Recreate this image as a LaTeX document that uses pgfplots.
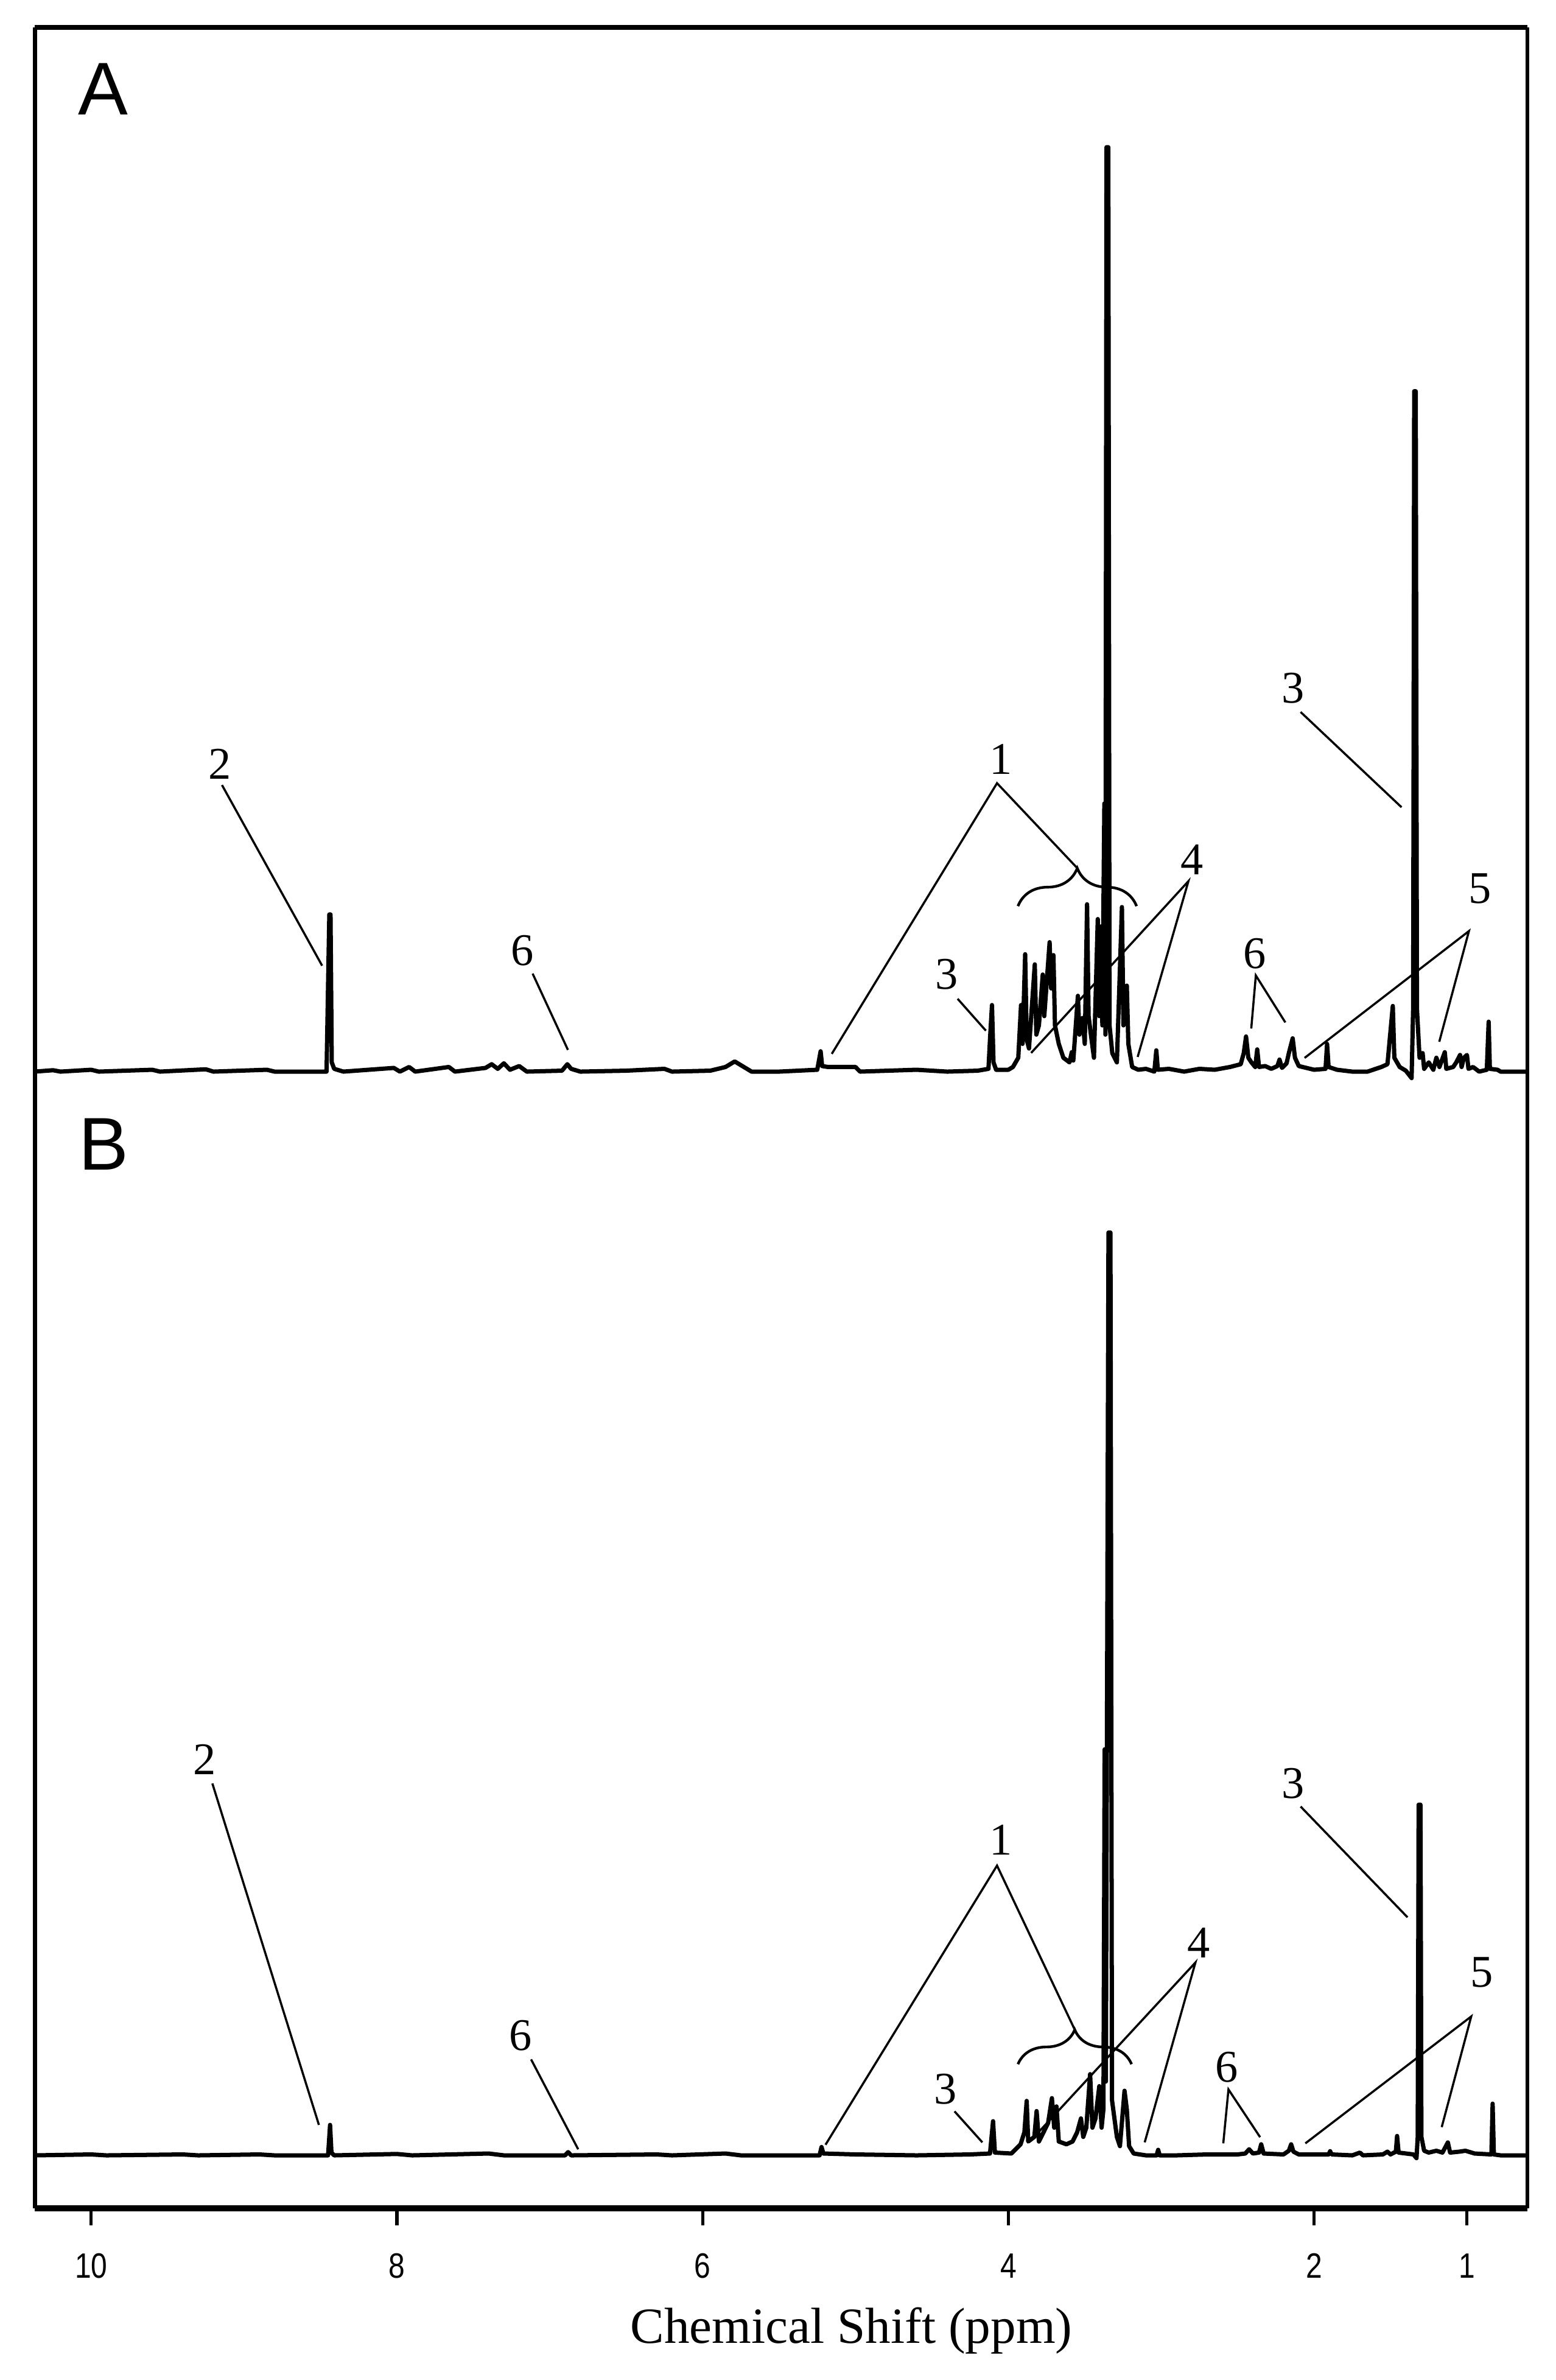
\documentclass[border=0pt]{standalone}
\usepackage{fontspec}
\setmainfont{Liberation Serif}
\newfontfamily\arial{Liberation Sans}
\usepackage{graphicx}
\usepackage{pgfplots}
\pgfplotsset{compat=1.18}
\usetikzlibrary{decorations.pathreplacing}

% shared look of the two stacked spectra
\pgfplotsset{
  nmr/.style={
    scale only axis, width=98.34mm,
    x dir=reverse, xmin=0.605, xmax=10.368,
    clip=false,
  },
  spec/.style={black, line width=0.8pt, sharp plot, no markers, line join=round},
}
\tikzset{
  lead/.style={black, line width=0.4pt},
  lbl/.style={font=\fontsize{8.5}{10}\selectfont, inner sep=0pt},
  panel/.style={font=\arial\fontsize{14}{16}\selectfont, inner sep=0pt},
  brc/.style={black, line width=0.5pt, decorate},
}

\begin{document}
\begin{tikzpicture}
\useasboundingbox (0,0) rectangle (102.5mm,-156.8mm);

% ---------------- panel A ----------------
\begin{axis}[nmr, height=71.9mm, at={(2.3mm,-1.8mm)}, anchor=north west,
  ymin=-5.09, ymax=112.97, hide axis]
\addplot[spec] coordinates {
(10.368,0)(10.25,0.15)(10.2,0)(10.0,0.2)(9.95,0)(9.6,0.2)(9.55,0)(9.25,0.25)(9.2,0)
(8.85,0.2)(8.8,0)(8.46,0)(8.442,17.0)(8.434,17.0)(8.426,1.0)(8.41,0.3)(8.35,0)
(8.02,0.4)(7.98,0)(7.92,0.5)(7.88,0)(7.66,0.5)(7.62,0)(7.42,0.4)(7.38,0.8)(7.34,0.3)
(7.30,0.9)(7.26,0.2)(7.20,0.6)(7.15,0)(6.92,0.1)(6.885,0.8)(6.86,0.3)(6.80,0)
(6.50,0.1)(6.25,0.3)(6.20,0)(5.95,0.1)(5.85,0.5)(5.79,1.1)(5.74,0.6)(5.68,0)(5.50,0)
(5.25,0.2)(5.228,2.2)(5.218,0.6)(5.18,0.5)(5.00,0.5)(4.97,0)(4.60,0.2)(4.40,0)
(4.20,0.1)(4.13,0.3)(4.12,3.5)(4.107,7.2)(4.097,1.0)(4.08,0.2)(4.00,0.2)(3.97,0.5)
(3.935,1.5)(3.917,7.2)(3.907,3.0)(3.890,12.7)(3.880,3.5)(3.865,2.5)(3.827,11.6)
(3.817,4.0)(3.800,5.0)(3.775,10.5)(3.765,6.0)(3.730,14.0)(3.720,9.0)(3.705,12.6)
(3.695,5.0)(3.670,3.0)(3.640,1.5)(3.600,1.0)(3.585,2.1)(3.575,1.2)(3.545,8.2)
(3.535,4.0)(3.515,5.8)(3.500,3.0)(3.485,18.1)(3.475,6.0)(3.460,4.0)(3.440,1.5)
(3.415,16.5)(3.405,6.0)(3.395,15.7)(3.385,5.0)(3.372,29.0)(3.365,4.0)(3.358,100)
(3.346,100)(3.338,5.0)(3.320,2.0)(3.290,1.0)(3.257,17.8)(3.247,5.0)(3.225,9.3)
(3.215,3.0)(3.190,0.5)(3.150,0.2)(3.100,0.3)(3.045,0)(3.032,2.3)(3.022,0.2)
(2.950,0.3)(2.850,0)(2.750,0.3)(2.650,0.2)(2.550,0.5)(2.480,0.8)(2.460,2.0)
(2.445,3.8)(2.430,1.5)(2.410,1.0)(2.385,0.5)(2.372,2.4)(2.360,0.5)(2.320,0.6)
(2.280,0.3)(2.240,0.6)(2.226,1.3)(2.210,0.4)(2.180,0.9)(2.165,2.0)(2.140,3.6)
(2.125,1.5)(2.100,0.6)(2.050,0.4)(2.000,0.2)(1.925,0.3)(1.915,3.0)(1.905,0.5)
(1.850,0.2)(1.750,0)(1.650,0)(1.560,0.5)(1.520,0.8)(1.485,7.1)(1.475,1.5)(1.440,0.5)
(1.400,0.1)(1.362,-0.7)(1.352,6.8)(1.345,73.6)(1.335,73.6)(1.327,6.8)(1.310,1.5)
(1.290,2.0)(1.280,0.3)(1.250,1.0)(1.220,0.2)(1.200,1.5)(1.180,0.5)(1.145,2.1)
(1.135,0.3)(1.090,0.5)(1.070,1.0)(1.045,1.8)(1.035,0.5)(1.020,1.5)(1.000,1.8)
(0.990,0.3)(0.960,0.5)(0.920,0)(0.870,0.2)(0.858,5.4)(0.850,0.3)(0.800,0.2)
(0.780,0)(0.605,0)
};
% frame: top, left, right
\draw[line width=0.95pt] (rel axis cs:0,1) -- (rel axis cs:1,1);
\draw[line width=0.75pt] (rel axis cs:0,0) -- (rel axis cs:0,1);
\draw[line width=0.75pt] (rel axis cs:1,0) -- (rel axis cs:1,1);

\node[panel] at (9.922,106.3) {A};
\node[lbl] at (9.159,33.3) {2};
\draw[lead] (9.144,31.0) -- (8.489,11.46);
\node[lbl] at (7.179,13.1) {6};
\draw[lead] (7.112,10.6) -- (6.881,2.35);
\node[lbl] at (4.05,33.8) {1};
\draw[lead] (5.155,1.92) -- (4.074,31.2) -- (3.554,22.1);
\draw[brc, decoration={brace, amplitude=2.5mm}] (3.937,17.9) -- (3.161,17.9);
\node[lbl] at (4.402,10.5) {3};
\draw[lead] (4.332,7.88) -- (4.147,4.43);
\node[lbl] at (2.799,22.9) {4};
\draw[lead] (3.851,2.02) -- (2.822,20.6) -- (3.154,1.59);
\node[lbl] at (2.388,12.8) {6};
\draw[lead] (2.411,4.66) -- (2.381,10.4) -- (2.188,5.32);
\node[lbl] at (2.138,41.5) {3};
\draw[lead] (2.088,38.9) -- (1.428,28.6);
\node[lbl] at (0.914,19.8) {5};
\draw[lead] (2.062,1.48) -- (0.987,15.2) -- (1.181,3.23);
\end{axis}

% ---------------- panel B ----------------
\begin{axis}[nmr, height=71.8mm, at={(2.3mm,-73.7mm)}, anchor=north west,
  ymin=-5.76, ymax=112.34,
  axis x line*=bottom, axis y line=none,
  x axis line style={line width=1.15pt},
  xtick={10,8,6,4,2,1},
  xticklabels={\scalebox{0.83}[1]{10},\scalebox{0.83}[1]{8},\scalebox{0.83}[1]{6},
    \scalebox{0.83}[1]{4},\scalebox{0.83}[1]{2},\scalebox{0.83}[1]{1}},
  xtick align=outside, major tick length=1.1mm,
  xtick style={line width=0.6pt, black},
  xticklabel style={font=\arial\fontsize{6.6}{7}\selectfont, anchor=base,
    yshift=-3.46mm, inner sep=0pt},
  ]
\addplot[spec] coordinates {
(10.368,0)(10.0,0.1)(9.9,0)(9.4,0.1)(9.3,0)(8.9,0.1)(8.8,0)(8.45,0)(8.437,3.3)
(8.428,0.3)(8.41,0)(8.0,0.15)(7.9,0)(7.4,0.2)(7.3,0)(6.90,0)(6.88,0.35)(6.86,0)
(6.3,0.1)(6.2,0)(5.85,0.2)(5.75,0)(5.235,0)(5.222,0.9)(5.21,0.2)(5.0,0.1)(4.6,0)
(4.25,0.1)(4.12,0.2)(4.100,3.7)(4.088,0.3)(3.98,0.2)(3.92,1.2)(3.895,2.5)(3.880,5.9)
(3.870,1.5)(3.830,2.0)(3.815,4.8)(3.800,1.5)(3.770,2.5)(3.740,3.5)(3.715,6.2)
(3.700,3.0)(3.685,5.3)(3.670,1.5)(3.620,1.2)(3.580,1.5)(3.550,2.5)(3.525,4.0)
(3.510,2.0)(3.490,3.0)(3.465,8.8)(3.450,3.0)(3.430,4.0)(3.405,7.5)(3.390,3.0)
(3.378,5.0)(3.370,44)(3.362,8.0)(3.345,100)(3.332,100)(3.322,6.0)(3.290,2.0)
(3.270,1.0)(3.240,7.0)(3.225,5.0)(3.210,1.0)(3.180,0.2)(3.100,0)(3.030,0)(3.020,0.6)
(3.010,0)(2.900,0)(2.700,0.1)(2.500,0.1)(2.450,0.2)(2.425,0.66)(2.400,0.2)
(2.360,0.3)(2.346,1.2)(2.330,0.2)(2.200,0.1)(2.165,0.5)(2.150,1.2)(2.135,0.4)
(2.100,0.1)(1.905,0.1)(1.895,0.45)(1.885,0.1)(1.750,0)(1.700,0.3)(1.680,0)
(1.550,0.1)(1.520,0.4)(1.500,0.1)(1.465,0.4)(1.457,2.1)(1.447,0.3)(1.350,0.1)
(1.330,-0.3)(1.322,2.0)(1.316,38)(1.304,38)(1.298,2.0)(1.280,0.5)(1.250,0.3)
(1.200,0.5)(1.160,0.3)(1.125,1.4)(1.110,0.3)(1.050,0.4)(1.010,0.5)(0.950,0.2)
(0.840,0.1)(0.832,5.6)(0.824,0.1)(0.780,0)(0.605,0)
};
% frame: left, right
\draw[line width=0.75pt] (rel axis cs:0,0) -- (rel axis cs:0,1);
\draw[line width=0.75pt] (rel axis cs:1,0) -- (rel axis cs:1,1);

\node[panel] at (9.917,109.6) {B};
\node[lbl] at (9.256,42.9) {2};
\draw[lead] (9.207,40.3) -- (8.51,3.3);
\node[lbl] at (7.191,13.0) {6};
\draw[lead] (7.122,10.4) -- (6.814,0.66);
\node[lbl] at (4.05,34.2) {1};
\draw[lead] (5.196,1.15) -- (4.074,31.4) -- (3.565,13.6);
\draw[brc, decoration={brace, amplitude=2.27mm}] (3.937,9.88) -- (3.194,9.88);
\node[lbl] at (4.412,7.2) {3};
\draw[lead] (4.352,4.77) -- (4.17,1.41);
\node[lbl] at (2.754,23.0) {4};
\draw[lead] (3.851,1.64) -- (2.776,20.9) -- (3.108,1.41);
\node[lbl] at (2.571,9.54) {6};
\draw[lead] (2.594,1.3) -- (2.560,7.14) -- (2.353,1.97);
\node[lbl] at (2.138,40.3) {3};
\draw[lead] (2.088,37.8) -- (1.389,25.8);
\node[lbl] at (0.903,19.8) {5};
\draw[lead] (2.057,1.3) -- (0.972,15.05) -- (1.165,3.06);
\end{axis}

\node[font=\fontsize{9.5}{11}\selectfont, anchor=base] at (56.1mm,-154.37mm)
  {Chemical Shift (ppm)};
\end{tikzpicture}
\end{document}
